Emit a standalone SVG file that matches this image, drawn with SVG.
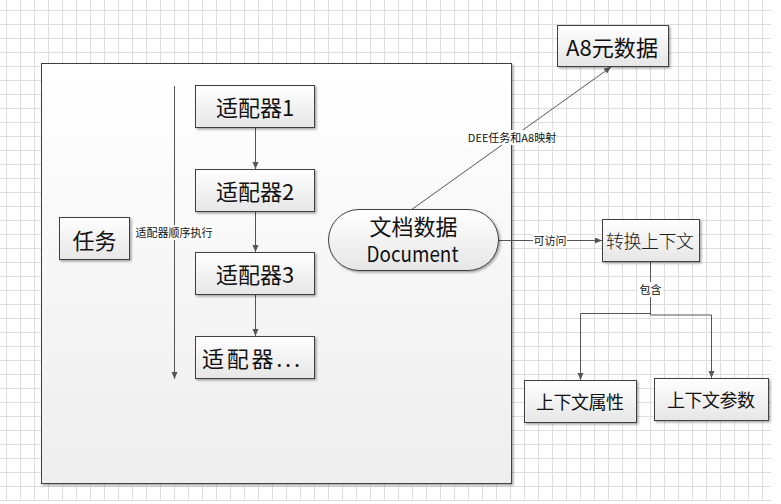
<svg xmlns="http://www.w3.org/2000/svg" width="781" height="504" viewBox="0 0 781 504">
<style>
.node{fill:url(#boxg);stroke:#404040;stroke-width:1;filter:url(#sh)}
.t{font-family:"Noto Sans CJK SC","Liberation Sans",sans-serif;fill:#111;text-anchor:middle;dominant-baseline:central}
.big{font-size:22px}
.mid{font-size:18px}
.lbl{font-family:"Noto Sans CJK SC","Liberation Sans",sans-serif;font-size:11px;fill:#111;text-anchor:middle;dominant-baseline:central}
.conn{fill:none;stroke:#555;stroke-width:1}
.lbg{fill:#fff}
</style>
<defs>
<pattern id="grid" patternUnits="userSpaceOnUse" x="6" y="10" width="14" height="14">
<path d="M0 0.5H14M0.5 0V14" fill="none" stroke="#dedede" stroke-width="1"/>
</pattern>
<linearGradient id="boxg" x1="0" y1="0" x2="0" y2="1">
<stop offset="0" stop-color="#ffffff"/>
<stop offset="1" stop-color="#e6e6e6"/>
</linearGradient>
<linearGradient id="bigg" x1="0" y1="0" x2="0" y2="1">
<stop offset="0" stop-color="#ffffff"/>
<stop offset="1" stop-color="#eeeeee"/>
</linearGradient>
<filter id="sh" x="-10%" y="-10%" width="130%" height="130%">
<feDropShadow dx="1.5" dy="1.5" stdDeviation="0.8" flood-color="#000" flood-opacity="0.35"/>
</filter>
<marker id="arr" markerUnits="userSpaceOnUse" markerWidth="8" markerHeight="8" refX="7" refY="3" orient="auto">
<path d="M0,0 L7,3 L0,6 z" fill="#555"/>
</marker>
</defs>
<rect x="0" y="0" width="781" height="504" fill="#fff"/>
<rect x="0" y="0" width="771" height="501" fill="url(#grid)"/>

<g id="container">
<rect x="41.5" y="63.5" width="470" height="420" fill="url(#bigg)" stroke="#404040" filter="url(#sh)"/>
</g>

<g id="connectors">
<path class="conn" d="M174.5 86V379" marker-end="url(#arr)"/>
<rect class="lbg" x="133" y="225" width="82" height="15"/>
<text class="lbl" x="174" y="232">适配器顺序执行</text>
<path class="conn" d="M255.5 127V169" marker-end="url(#arr)"/>
<path class="conn" d="M255.5 211V252" marker-end="url(#arr)"/>
<path class="conn" d="M255.5 294V336" marker-end="url(#arr)"/>
<path class="conn" d="M411 210L611 67" marker-end="url(#arr)"/>
<rect class="lbg" x="468" y="130" width="88" height="15"/>
<text class="lbl" x="512" y="137">DEE任务和A8映射</text>
<path class="conn" d="M499 240.5H602" marker-end="url(#arr)"/>
<rect class="lbg" x="533" y="233" width="34" height="15"/>
<text class="lbl" x="550" y="240">可访问</text>
<path class="conn" d="M650.5 261V313.5H580.5V380" marker-end="url(#arr)"/>
<path class="conn" d="M650.5 261V315H711.5V378" marker-end="url(#arr)"/>
<rect class="lbg" x="638" y="282" width="25" height="15"/>
<text class="lbl" x="650.5" y="289">包含</text>
</g>

<g id="task">
<rect class="node" x="59.5" y="217.5" width="70" height="42"/>
<text class="t big" x="94.5" y="238.5">任务</text>
</g>
<g id="adapter1">
<rect class="node" x="195.5" y="85.5" width="119" height="42"/>
<text class="t big" x="255" y="106">适配器1</text>
</g>
<g id="adapter2">
<rect class="node" x="195.5" y="169.5" width="119" height="42"/>
<text class="t big" x="255" y="190">适配器2</text>
</g>
<g id="adapter3">
<rect class="node" x="195.5" y="252.5" width="119" height="42"/>
<text class="t big" x="255" y="273">适配器3</text>
</g>
<g id="adapterN">
<rect class="node" x="195.5" y="336.5" width="119" height="42"/>
<text class="t big" x="251" y="357" textLength="98" lengthAdjust="spacing">适配器...</text>
</g>
<g id="document">
<rect class="node" x="328.5" y="209.5" width="170" height="61" rx="30.5" ry="30.5"/>
<text class="t big" x="413.5" y="225">文档数据</text>
<text class="t" style="font-size:21px" x="412.5" y="253" textLength="92" lengthAdjust="spacingAndGlyphs">Document</text>
</g>
<g id="a8meta">
<rect class="node" x="557.5" y="25.5" width="111" height="41"/>
<text class="t big" x="612" y="45.5" textLength="92" lengthAdjust="spacingAndGlyphs">A8元数据</text>
</g>
<g id="context">
<rect class="node" x="602.5" y="219.5" width="97" height="42"/>
<text class="t mid" x="650" y="240" style="fill:#222;font-weight:300" textLength="88" lengthAdjust="spacing">转换上下文</text>
</g>
<g id="ctxattr">
<rect class="node" x="524.5" y="380.5" width="112" height="42"/>
<text class="t mid" x="580" y="401" textLength="88" lengthAdjust="spacing">上下文属性</text>
</g>
<g id="ctxparam">
<rect class="node" x="654.5" y="378.5" width="114" height="42"/>
<text class="t mid" x="711" y="399" textLength="88" lengthAdjust="spacing">上下文参数</text>
</g>
</svg>
